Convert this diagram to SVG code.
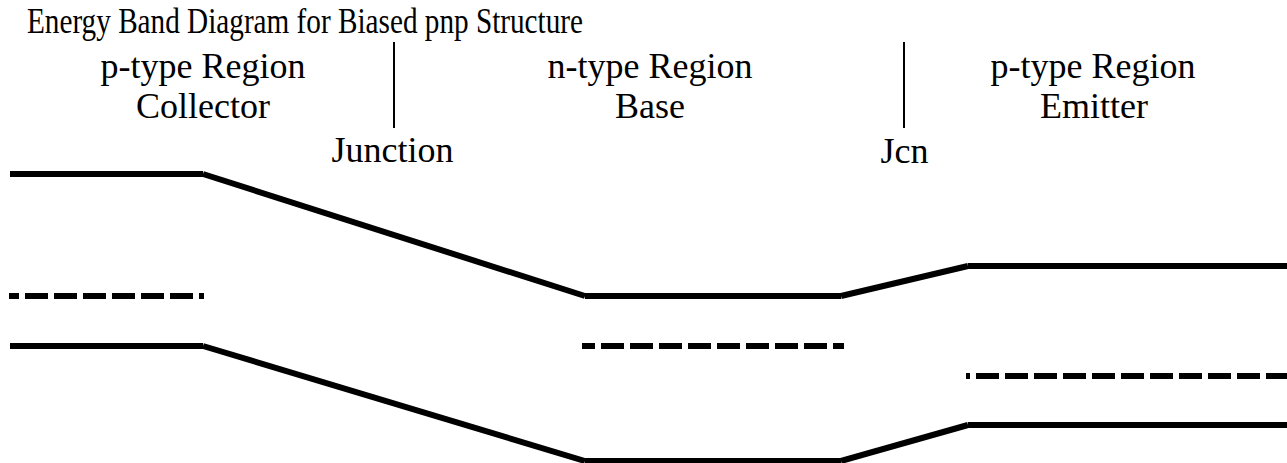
<svg xmlns="http://www.w3.org/2000/svg" width="1287" height="463" viewBox="0 0 1287 463">
  <style>
    .band { stroke: #000; stroke-width: 6; fill: none; stroke-linecap: butt; }
    .fermi { stroke: #000; stroke-width: 6; fill: none; stroke-linecap: butt; stroke-dasharray: 23 6; }
    .jline { stroke: #000; stroke-width: 2; }
    .t { font-family: "Liberation Serif", "Times New Roman", serif; fill: #000; }
    .lbl { font-size: 36px; text-anchor: middle; }
  </style>
  <rect width="1287" height="463" fill="#fff"/>
  <g id="title">
    <text class="t" x="27" y="33" font-size="35" textLength="556" lengthAdjust="spacingAndGlyphs">Energy Band Diagram for Biased pnp Structure</text>
  </g>
  <g id="collector">
    <text class="t lbl" x="203" y="78">p-type Region</text>
    <text class="t lbl" x="203" y="118">Collector</text>
  </g>
  <g id="base">
    <text class="t lbl" x="650" y="78">n-type Region</text>
    <text class="t lbl" x="650" y="118">Base</text>
  </g>
  <g id="emitter">
    <text class="t lbl" x="1093" y="78">p-type Region</text>
    <text class="t lbl" x="1094" y="118">Emitter</text>
  </g>
  <g id="junction">
    <line class="jline" x1="394" y1="42" x2="394" y2="128"/>
    <text class="t lbl" x="392.5" y="162">Junction</text>
  </g>
  <g id="jcn">
    <line class="jline" x1="904" y1="42" x2="904" y2="128"/>
    <text class="t lbl" x="904.5" y="163">Jcn</text>
  </g>
  <g id="connectors">
    <line class="band" x1="10" y1="174" x2="203" y2="174"/>
    <line class="band" x1="203" y1="174" x2="585" y2="296"/>
    <line class="band" x1="585" y1="296" x2="841" y2="296"/>
    <line class="band" x1="841" y1="296" x2="968" y2="266"/>
    <line class="band" x1="968" y1="266" x2="1287" y2="266"/>
    <line class="band" x1="10" y1="346" x2="203" y2="346"/>
    <line class="band" x1="203" y1="346" x2="585" y2="461"/>
    <line class="band" x1="585" y1="461" x2="841" y2="461"/>
    <line class="band" x1="841" y1="461" x2="968" y2="425"/>
    <line class="band" x1="968" y1="425" x2="1287" y2="425"/>
    <line class="fermi" x1="9" y1="296" x2="204" y2="296" stroke-dashoffset="13"/>
    <line class="fermi" x1="582" y1="346" x2="844" y2="346" stroke-dashoffset="10"/>
    <line class="fermi" x1="966" y1="376" x2="1287" y2="376" stroke-dashoffset="19"/>
  </g>
</svg>
